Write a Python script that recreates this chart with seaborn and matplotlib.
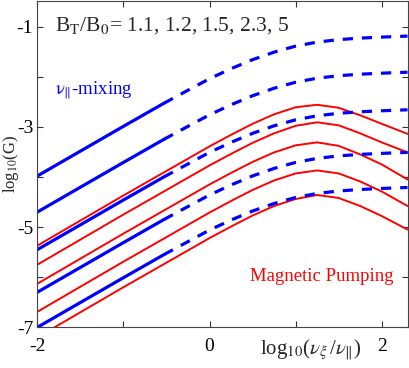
import seaborn as sns
import matplotlib.pyplot as plt

# values, x = log10(nu_xi / nu_par), y = log10(G)
blue_x = [-2, -1, -0.53, -0.25, 0, 0.25, 0.5, 0.75, 1.0, 1.25, 1.5, 1.75, 2.0, 2.3]
blue_curves = [
    [-3.98, -2.99, -2.53, -2.27, -2.04, -1.84, -1.66, -1.51, -1.39, -1.31, -1.26, -1.23, -1.21, -1.19],
    [-4.70, -3.71, -3.25, -2.99, -2.76, -2.56, -2.38, -2.23, -2.11, -2.03, -1.98, -1.95, -1.93, -1.91],
    [-5.45, -4.46, -4.00, -3.74, -3.51, -3.31, -3.13, -2.98, -2.86, -2.78, -2.73, -2.70, -2.68, -2.66],
    [-6.30, -5.31, -4.85, -4.59, -4.36, -4.16, -3.98, -3.83, -3.71, -3.63, -3.58, -3.55, -3.53, -3.51],
    [-7.00, -6.01, -5.55, -5.29, -5.06, -4.86, -4.68, -4.53, -4.41, -4.33, -4.28, -4.25, -4.23, -4.21],
]
n_solid = 3  # blue is solid up to x = -0.53, dashed after

red_x = [-2, -1, -0.5, 0, 0.25, 0.5, 0.75, 1.0, 1.25, 1.5, 1.75, 2.0, 2.3]
red_curves = [
    [-5.37, -4.37, -3.88, -3.39, -3.16, -2.94, -2.75, -2.61, -2.56, -2.62, -2.77, -2.94, -3.14],
    [-5.75, -4.75, -4.26, -3.77, -3.54, -3.32, -3.13, -2.98, -2.91, -2.97, -3.13, -3.31, -3.51],
    [-6.13, -5.13, -4.64, -4.15, -3.92, -3.70, -3.51, -3.37, -3.31, -3.38, -3.55, -3.75, -4.05],
    [-6.69, -5.69, -5.20, -4.71, -4.48, -4.26, -4.07, -3.93, -3.87, -3.93, -4.09, -4.29, -4.58],
    [-7.20, -6.20, -5.71, -5.22, -4.99, -4.77, -4.58, -4.44, -4.36, -4.42, -4.58, -4.78, -5.05],
]

x_ticks = [-2, -1, 0, 1, 2]
x_ticklabels = ['-2', '', '0', '', '2']
y_ticks = [-7, -6, -5, -4, -3, -2, -1]
y_ticklabels = ['-7', '', '-5', '', '-3', '', '-1']

sns.set_theme(style='ticks')
plt.rcParams['font.family'] = ['Liberation Serif', 'DejaVu Serif']
plt.rcParams['mathtext.fontset'] = 'stix'

fig = plt.figure(figsize=(4.09, 3.68), dpi=100)
ax = fig.add_axes([0.0914, 0.1106, 0.905, 0.888])

for ys in red_curves:
    sns.lineplot(x=red_x, y=ys, color='#ff0000', lw=1.4, ax=ax, sort=False)

for ys in blue_curves:
    sns.lineplot(x=blue_x[:n_solid], y=ys[:n_solid], color='#0000ff', lw=2.3,
                 ax=ax, sort=False)
    sns.lineplot(x=blue_x[n_solid - 1:], y=ys[n_solid - 1:], color='#0000ff',
                 lw=2.3, ax=ax, sort=False)
    ax.lines[-1].set_dashes([3.2, 2.8])

ax.set_xlim(-2, 2.3)
ax.set_ylim(-7, -0.48)
ax.set_xticks(x_ticks)
ax.set_xticklabels(x_ticklabels)
ax.set_yticks(y_ticks)
ax.set_yticklabels(y_ticklabels)
ax.tick_params(direction='in', length=4, width=0.8, colors='#333333',
               labelcolor='black', labelsize=14, top=True, right=True)
ax.tick_params(axis='x', pad=8)
ax.tick_params(axis='y', pad=3)
for s in ax.spines.values():
    s.set_visible(True)
    s.set_color('#444444')
    s.set_linewidth(0.8)
ax.set_xlabel('')
ax.set_ylabel('')

ax.text(0.048, 0.955, r'B$_{\mathrm{T}}$/B$_{0}$= 1.1, 1.2, 1.5, 2.3, 5',
        transform=ax.transAxes, fontsize=15.5, va='top', ha='left')
ax.text(0.048, 0.725, r'$\mathrm{\nu}_{\|}$-mixing', transform=ax.transAxes,
        fontsize=13.5, color='#0000ff', va='center', ha='left')
ax.text(0.962, 0.155, 'Magnetic Pumping', transform=ax.transAxes,
        fontsize=13.5, color='#ff0000', va='center', ha='right')

fig.text(0.76, 0.05, r'log$_{10}$($\nu_{\xi}\,$/$\nu_{\|}$)', fontsize=15,
         ha='center', va='center')
fig.text(0.026, 0.555, r'log$_{10}$(G)', fontsize=12, rotation=90,
         ha='center', va='center')

fig.savefig('out.png', dpi=100)
